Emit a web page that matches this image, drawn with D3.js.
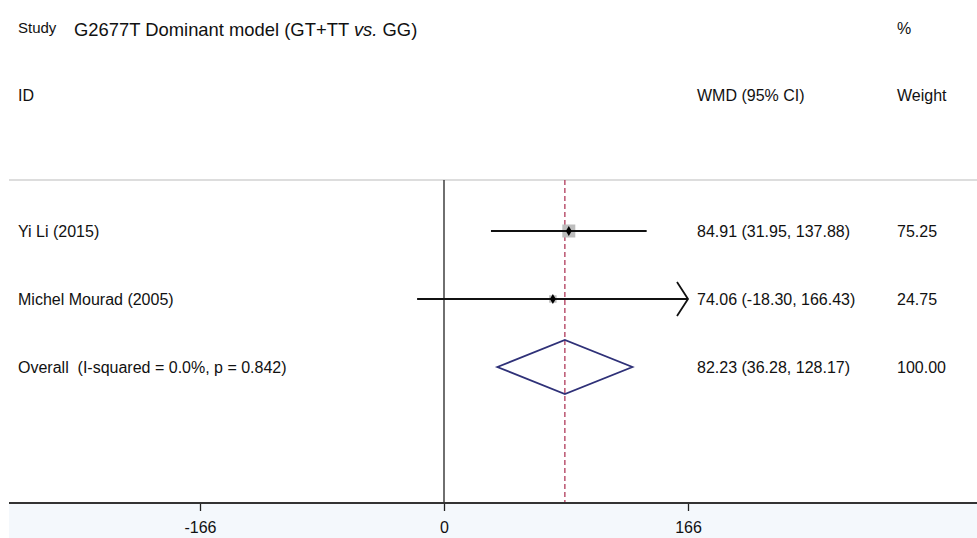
<!DOCTYPE html>
<html>
<head>
<meta charset="utf-8">
<script src="https://cdn.jsdelivr.net/npm/d3@7"></script>
<style>
  html, body { margin: 0; padding: 0; background: #fff; }
  svg text { font-family: "Liberation Sans", Arial, sans-serif; fill: #111; }
</style>
</head>
<body>
<div id="chart"></div>
<script>
// Chart data
const studies = ['Yi Li (2015)', 'Michel Mourad (2005)'];
const wmd = [84.91, 74.06];
const lower = [31.95, -18.30];
const upper = [137.88, 166.43];
const weights = [75.25, 24.75];
const overallLabel = 'Overall  (I-squared = 0.0%, p = 0.842)';
const overallEst = [82.23, 36.28, 128.17];
const overallWeight = 100.00;
const tickValues = [-166, 0, 166];

const width = 977;
const height = 538;

const svg = d3.select('#chart')
  .append('svg')
  .attr('width', width)
  .attr('height', height);

// Scales
const x = d3.scaleLinear().domain([-166, 166]).range([200, 688]);
const rows = studies.concat([overallLabel]);
const y = d3.scalePoint().domain(rows).range([231, 367]);
const axisY = 503;
const topY = 180;

// light background under the axis
svg.append('rect')
  .attr('x', 9).attr('y', axisY)
  .attr('width', width - 9).attr('height', height - axisY)
  .attr('fill', '#f4f8fc');

// header texts
svg.append('text').attr('x', 18).attr('y', 33).attr('font-size', 15).text('Study');
const title = svg.append('text').attr('x', 74).attr('y', 36).attr('font-size', 18.4);
title.append('tspan').text('G2677T Dominant model (GT+TT ');
title.append('tspan').attr('font-style', 'italic').text('vs.');
title.append('tspan').text(' GG)');
svg.append('text').attr('x', 897).attr('y', 34).attr('font-size', 16).text('%');
svg.append('text').attr('x', 18).attr('y', 101).attr('font-size', 16).text('ID');
svg.append('text').attr('x', 697).attr('y', 101).attr('font-size', 16).text('WMD (95% CI)');
svg.append('text').attr('x', 897).attr('y', 101).attr('font-size', 16).text('Weight');

// separator
svg.append('line')
  .attr('x1', 9).attr('x2', width)
  .attr('y1', topY).attr('y2', topY)
  .attr('stroke', '#d2d2d2').attr('stroke-width', 1.5);

// null line
svg.append('line')
  .attr('x1', x(0)).attr('x2', x(0))
  .attr('y1', topY).attr('y2', axisY)
  .attr('stroke', '#222').attr('stroke-width', 1.3);

// overall dashed line
svg.append('line')
  .attr('x1', x(overallEst[0])).attr('x2', x(overallEst[0]))
  .attr('y1', topY).attr('y2', axisY)
  .attr('stroke', '#b03a5a').attr('stroke-width', 1.3)
  .attr('stroke-dasharray', '5,3');

// study rows
const maxW = d3.max(weights);
const boxSize = w => 13 * Math.sqrt(w / maxW);
const [dMin, dMax] = x.domain();

studies.forEach((s, i) => {
  const cy = y(s);
  const lo = Math.max(lower[i], dMin);
  const hi = Math.min(upper[i], dMax);
  const b = boxSize(weights[i]);

  svg.append('rect')
    .attr('x', x(wmd[i]) - b / 2).attr('y', cy - b / 2)
    .attr('width', b).attr('height', b)
    .attr('fill', '#bdbdbd');

  svg.append('line')
    .attr('x1', x(lo)).attr('x2', x(hi))
    .attr('y1', cy).attr('y2', cy)
    .attr('stroke', '#111').attr('stroke-width', 1.8);

  // arrow when the interval runs off the scale
  if (upper[i] > dMax) {
    svg.append('path')
      .attr('d', `M${x(dMax) - 11},${cy - 17} L${x(dMax)},${cy} L${x(dMax) - 11},${cy + 17}`)
      .attr('fill', 'none').attr('stroke', '#111').attr('stroke-width', 1.8);
  }
  if (lower[i] < dMin) {
    svg.append('path')
      .attr('d', `M${x(dMin) + 11},${cy - 17} L${x(dMin)},${cy} L${x(dMin) + 11},${cy + 17}`)
      .attr('fill', 'none').attr('stroke', '#111').attr('stroke-width', 1.8);
  }

  svg.append('path')
    .attr('d', d3.symbol(d3.symbolDiamond, 30)())
    .attr('transform', `translate(${x(wmd[i])},${cy})`)
    .attr('fill', '#000');

  svg.append('text').attr('x', 18).attr('y', cy + 6).attr('font-size', 16).text(s);
  svg.append('text').attr('x', 697).attr('y', cy + 6).attr('font-size', 16)
    .text(`${wmd[i].toFixed(2)} (${lower[i].toFixed(2)}, ${upper[i].toFixed(2)})`);
  svg.append('text').attr('x', 897).attr('y', cy + 6).attr('font-size', 16)
    .text(weights[i].toFixed(2));
});

// overall diamond
const oy = y(overallLabel);
svg.append('path')
  .attr('d', `M${x(overallEst[1])},${oy} L${x(overallEst[0])},${oy - 27} L${x(overallEst[2])},${oy} L${x(overallEst[0])},${oy + 27} Z`)
  .attr('fill', 'none').attr('stroke', '#2f3178').attr('stroke-width', 1.8);
svg.append('text').attr('x', 18).attr('y', oy + 6).attr('font-size', 16).text(overallLabel)
  .attr('xml:space', 'preserve').style('white-space', 'pre');
svg.append('text').attr('x', 697).attr('y', oy + 6).attr('font-size', 16)
  .text(`${overallEst[0].toFixed(2)} (${overallEst[1].toFixed(2)}, ${overallEst[2].toFixed(2)})`);
svg.append('text').attr('x', 897).attr('y', oy + 6).attr('font-size', 16)
  .text(overallWeight.toFixed(2));

// x axis
const axis = svg.append('g')
  .attr('transform', `translate(0,${axisY})`)
  .call(d3.axisBottom(x).tickValues(tickValues).tickSize(8).tickPadding(11).tickFormat(d => String(d)));
axis.select('.domain').remove();
axis.selectAll('.tick line').attr('stroke', '#222').attr('stroke-width', 1.3);
axis.selectAll('.tick text').attr('font-size', 16).attr('fill', '#111')
  .style('font-family', '"Liberation Sans", Arial, sans-serif');
svg.append('line')
  .attr('x1', 9).attr('x2', width)
  .attr('y1', axisY).attr('y2', axisY)
  .attr('stroke', '#333').attr('stroke-width', 1.8);
</script>
</body>
</html>
